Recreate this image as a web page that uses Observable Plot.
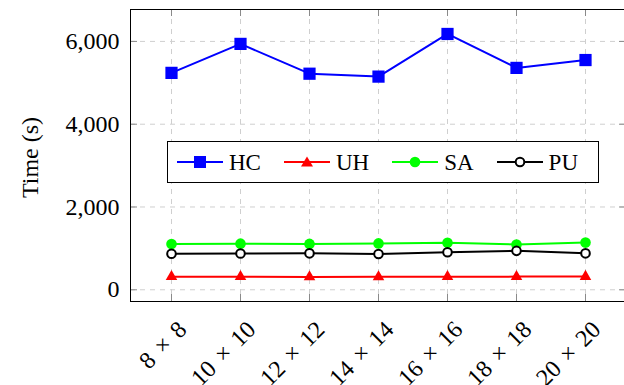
<!DOCTYPE html>
<html>
<head>
<meta charset="utf-8">
<script src="https://cdn.jsdelivr.net/npm/d3@7"></script>
<script src="https://cdn.jsdelivr.net/npm/@observablehq/plot@0.6"></script>
<style>
  html, body { margin: 0; padding: 0; background: #fff; overflow: hidden; }
  #wrap { position: relative; width: 624px; height: 385px; font-family: "Liberation Serif", "DejaVu Serif", serif; }
  #wrap svg text { font-family: "Liberation Serif", "DejaVu Serif", serif; }
  #legend { position: absolute; left: 167px; top: 141px; width: 421px; height: 40px; border: 1px solid #000; background: #fff;
            display: flex; align-items: center; padding-left: 9px; box-sizing: content-box; gap: 0; }
  .item { display: flex; align-items: center; margin-right: 23px; }
  .item span { font-size: 23px; margin-left: 6px; line-height: 1; }
</style>
</head>
<body>
<div id="wrap"></div>
<script>
const categories = ["8 × 8", "10 × 10", "12 × 12", "14 × 14", "16 × 16", "18 × 18", "20 × 20"];
const seriesNames = ["HC", "UH", "SA", "PU"];
const HC = [5240, 5940, 5220, 5150, 6180, 5360, 5550];
const UH = [315, 315, 310, 312, 315, 318, 320];
const SA = [1105, 1115, 1108, 1120, 1135, 1095, 1140];
const PU = [870, 875, 880, 865, 905, 940, 880];
const yTicks = [0, 2000, 4000, 6000];
const colors = {HC: "#0000ff", UH: "#ff0000", SA: "#00ff00", PU: "#000000"};

const valuesBySeries = {HC, UH, SA, PU};
const rows = seriesNames.flatMap(s => categories.map((c, i) => ({series: s, size: c, value: valuesBySeries[s][i]})));
const of = s => rows.filter(r => r.series === s);

const frameH = 292, frameW = 496, tick = 7;
const gridStyle = {stroke: "#cfcfcf", strokeOpacity: 1, strokeDasharray: "5,5", strokeWidth: 1};
const tickStyle = {stroke: "#8a8a8a", strokeWidth: 1};
const serif = "'Liberation Serif', 'DejaVu Serif', serif";

const chart = Plot.plot({
  width: 624,
  height: 385,
  marginLeft: 130,
  marginRight: -2,
  marginTop: 9,
  marginBottom: 84,
  style: {fontFamily: serif, fontSize: "24px", background: "#fff", color: "#000"},
  x: {type: "point", domain: categories, padding: 0.589, axis: null},
  y: {domain: [-283, 6771], axis: null},
  marks: [
    Plot.gridX(categories, gridStyle),
    Plot.gridY(yTicks, gridStyle),
    Plot.ruleX(categories, {x: d => d, insetTop: frameH - tick, ...tickStyle}),
    Plot.ruleX(categories, {x: d => d, insetBottom: frameH - tick, ...tickStyle}),
    Plot.ruleY(yTicks, {y: d => d, insetRight: frameW - tick, ...tickStyle}),
    Plot.ruleY(yTicks, {y: d => d, insetLeft: frameW - tick, ...tickStyle}),
    Plot.frame({stroke: "#000", strokeWidth: 1}),
    Plot.line(of("HC"), {x: "size", y: "value", stroke: colors.HC, strokeWidth: 2}),
    Plot.dot(of("HC"), {x: "size", y: "value", symbol: "square", r: 6.9, fill: colors.HC}),
    Plot.line(of("UH"), {x: "size", y: "value", stroke: colors.UH, strokeWidth: 2}),
    Plot.dot(of("UH"), {x: "size", y: "value", symbol: "triangle", r: 4.3, fill: colors.UH}),
    Plot.line(of("SA"), {x: "size", y: "value", stroke: colors.SA, strokeWidth: 2}),
    Plot.dot(of("SA"), {x: "size", y: "value", symbol: "circle", r: 5.3, fill: colors.SA}),
    Plot.line(of("PU"), {x: "size", y: "value", stroke: colors.PU, strokeWidth: 2}),
    Plot.dot(of("PU"), {x: "size", y: "value", symbol: "circle", r: 4.3, fill: "#fff", stroke: colors.PU, strokeWidth: 2}),
    Plot.text(categories, {x: d => d, text: d => d, frameAnchor: "bottom", rotate: -45, textAnchor: "end", lineAnchor: "middle", dx: 11, dy: 24, fontSize: 24, fill: "#000"}),
    Plot.axisY(yTicks, {tickSize: 0, tickPadding: 11, tickFormat: d3.format(","), label: null, fontSize: 24}),
    Plot.text(["Time (s)"], {frameAnchor: "left", rotate: -90, textAnchor: "middle", lineAnchor: "middle", dx: -100, dy: 2, fontSize: 24, text: d => d, fill: "#000"})
  ]
});
d3.select(chart).selectAll("text").filter(function() { return this.textContent.includes("×"); }).style("word-spacing", "3px");
const wrap = document.getElementById("wrap");
wrap.appendChild(chart);

const legend = document.createElement("div");
legend.id = "legend";
const markerSvg = {
  HC: `<rect x="17" y="4" width="12" height="12" fill="${colors.HC}"/>`,
  UH: `<path d="M23,4.5 L29,14.5 L17,14.5 Z" fill="${colors.UH}"/>`,
  SA: `<circle cx="23" cy="10" r="5.3" fill="${colors.SA}"/>`,
  PU: `<circle cx="23" cy="10" r="4.3" fill="#fff" stroke="${colors.PU}" stroke-width="2"/>`
};
for (const s of seriesNames) {
  const it = document.createElement("div");
  it.className = "item";
  it.innerHTML = `<svg width="46" height="20"><line x1="0" x2="46" y1="10" y2="10" stroke="${colors[s]}" stroke-width="2"/>${markerSvg[s]}</svg><span>${s}</span>`;
  legend.appendChild(it);
}
wrap.appendChild(legend);
</script>
</body>
</html>
